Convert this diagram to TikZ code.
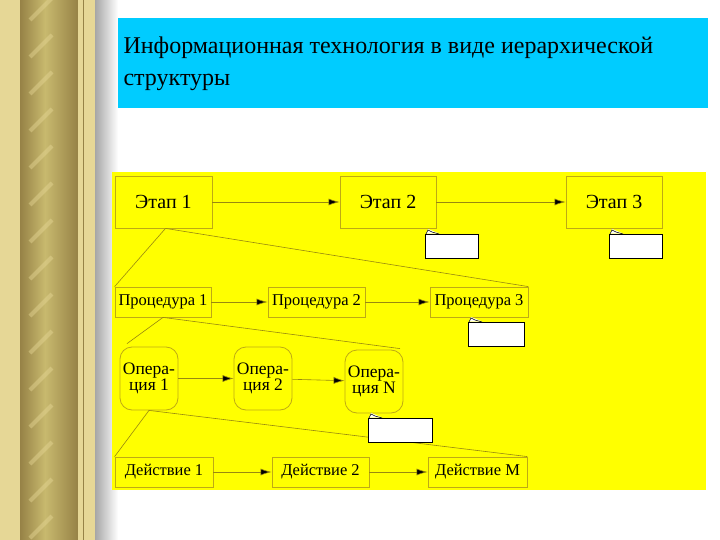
\documentclass[tikz,border=0pt]{standalone}
\usepackage{fontspec}
\setmainfont{Liberation Serif}
\usetikzlibrary{arrows.meta}
\definecolor{ylw}{RGB}{255,255,0}
\definecolor{olv}{RGB}{190,170,20}
\definecolor{ttl}{RGB}{0,204,255}
\definecolor{gold}{RGB}{200,185,110}
\definecolor{goldd}{RGB}{150,130,70}
\definecolor{goldl}{RGB}{230,215,150}
\tikzset{
 box/.style={draw=olv,line width=0.8pt,inner sep=0pt,font=\fontsize{20}{22}\selectfont},
 pbox/.style={box,font=\fontsize{16.5}{18}\selectfont},
 obox/.style={box,rounded corners=12pt,font=\fontsize{17.5}{16}\selectfont,align=center},
 conn/.style={draw=olv!80!black,line width=0.6pt},
 arr/.style={conn,-{Latex[length=11pt,width=7pt,fill=black]}},
 note/.style={draw=black,fill=white,line width=0.6pt}
}
\begin{document}
\begin{tikzpicture}[x=1pt,y=-1pt]
\useasboundingbox (0,0) rectangle (720,540);
\fill[white] (0,0) rectangle (720,540);
% column
\fill[goldl] (0,0) rectangle (20,540);
\shade[left color=goldd,right color=gold] (20,0) rectangle (45,540);
\shade[left color=gold,right color=goldd] (45,0) rectangle (78,540);
\fill[goldl] (78,0) rectangle (95,540);
\draw[goldd] (83,0) -- (83,540);
\shade[left color=gray!70,right color=white] (95,0) rectangle (118,540);
\foreach \i in {0,...,14} {\draw[goldl,line width=4pt,opacity=0.45] (30,20+\i*37) -- (52,-2+\i*37);}
% title
\fill[ttl] (118,18) rectangle (708,108);
\node[anchor=west,align=left,font=\fontsize{24}{32}\selectfont] (t) at (120,64) {Информационная технология в виде иерархической\\структуры};
% yellow
\fill[ylw] (112,172) rectangle (706,490);
\node[box,minimum width=97pt,minimum height=52pt] (e1) at (163.5,202) {Этап 1};
\node[box,minimum width=96pt,minimum height=52pt] (e2) at (388,202) {Этап 2};
\node[box,minimum width=96pt,minimum height=52pt] (e3) at (614,202) {Этап 3};
\node[pbox,minimum width=96pt,minimum height=30pt] (p1) at (163,302) {Процедура 1};
\node[pbox,minimum width=97pt,minimum height=30pt] (p2) at (316.5,302) {Процедура 2};
\node[pbox,minimum width=98pt,minimum height=30pt] (p3) at (479,302) {Процедура 3};
\node[obox,minimum width=58pt,minimum height=63pt] (o1) at (149,378.5) {Опера-\\ция 1};
\node[obox,minimum width=58pt,minimum height=63pt] (o2) at (263,378.5) {Опера-\\ция 2};
\node[obox,minimum width=58pt,minimum height=63pt] (o3) at (374,381.5) {Опера-\\ция N};
\node[pbox,minimum width=98pt,minimum height=30pt] (d1) at (164,472) {Действие 1};
\node[pbox,minimum width=97pt,minimum height=30pt] (d2) at (320.5,472) {Действие 2};
\node[pbox,minimum width=99pt,minimum height=30pt] (d3) at (477.5,472) {Действие М};
\draw[arr] (e1) -- (e2); \draw[arr] (e2) -- (e3);
\draw[arr] (p1) -- (p2); \draw[arr] (p2) -- (p3);
\draw[arr] (o1) -- (o2); \draw[arr] (o2) -- (o3);
\draw[arr] (d1) -- (d2); \draw[arr] (d2) -- (d3);
\draw[conn] ([xshift=2pt]e1.south) -- (p1.north west);
\draw[conn] ([xshift=2pt]e1.south) -- (p3.north east);
\draw[conn] (p1.south) -- ([xshift=-22pt,yshift=3pt]o1.north);
\draw[conn] (p1.south) -- ([xshift=26pt,yshift=1pt]o3.north);
\draw[conn] (o1.south) -- (d1.north west);
\draw[conn] (o1.south) -- (d3.north east);
% notes
\foreach \nm/\x/\y/\w in {n1/425/234/53,n2/609/234/53,n3/468/322/56,n4/368/418/64} {
 \draw[note] (\x,\y) rectangle (\x+\w,\y+24);
 \fill[white] (\x+1,\y-0.5) -- (\x+3,\y-5) -- (\x+14,\y-0.5) -- cycle;
 \draw[black,line width=0.6pt] (\x+1,\y) -- (\x+3,\y-4) -- (\x+7,\y-2) -- (\x+14,\y);
 \coordinate (\nm) at (\x,\y);
}
\end{tikzpicture}
\end{document}
